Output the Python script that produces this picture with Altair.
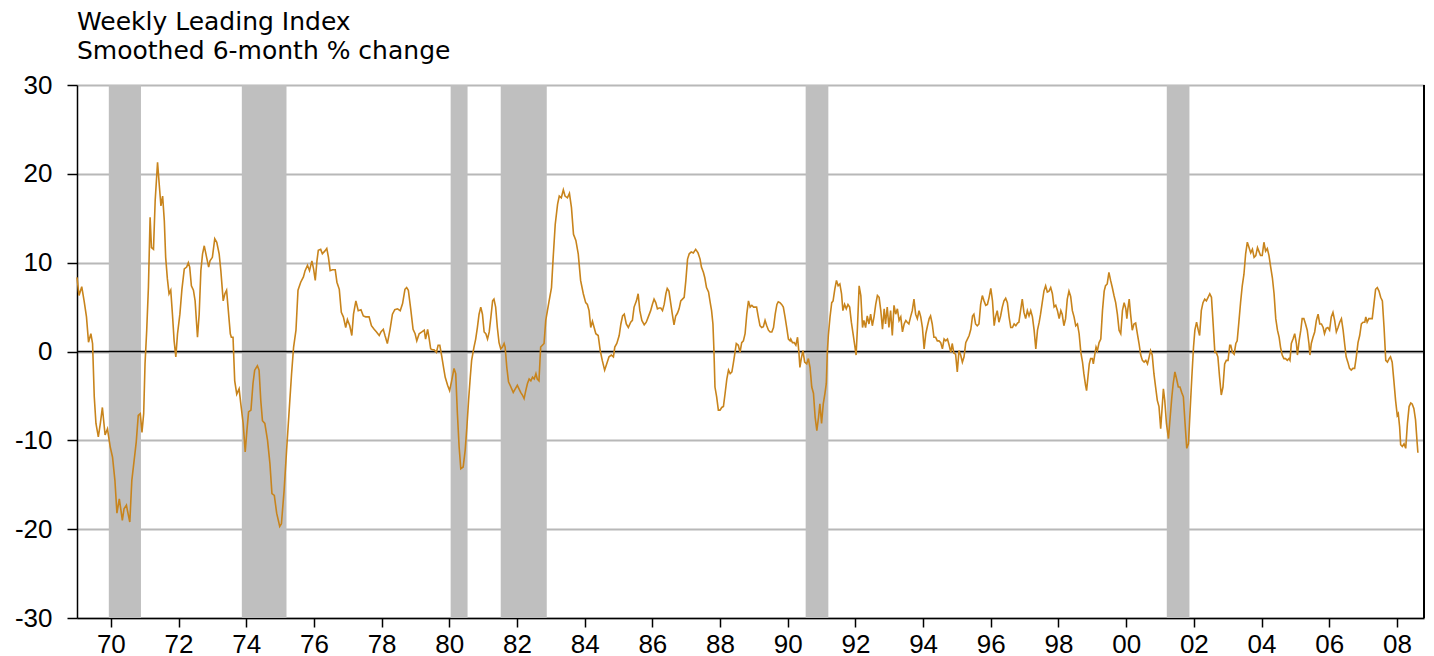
import altair as alt
import pandas as pd

FONT = "Liberation Sans"
TITLE_FONT = "DejaVu Sans"

# ---- Weekly Leading Index, smoothed 6-month % change ----
years_69_76 = [1969.00, 1969.06, 1969.14, 1969.21, 1969.28, 1969.34, 1969.41, 1969.46, 1969.51, 1969.56,
               1969.63, 1969.69, 1969.75, 1969.83, 1969.90, 1969.98, 1970.05, 1970.12, 1970.18, 1970.25,
               1970.30, 1970.34, 1970.39, 1970.46, 1970.49, 1970.56, 1970.62, 1970.69, 1970.75, 1970.81,
               1970.87, 1970.92, 1970.97, 1971.01, 1971.06, 1971.11, 1971.16, 1971.20, 1971.26, 1971.31,
               1971.38, 1971.43, 1971.48, 1971.53, 1971.58, 1971.62, 1971.67, 1971.72, 1971.77, 1971.82,
               1971.87, 1971.92, 1971.97, 1972.04, 1972.10, 1972.17, 1972.24, 1972.29, 1972.33, 1972.38,
               1972.44, 1972.49, 1972.56, 1972.61, 1972.66, 1972.71, 1972.76, 1972.83, 1972.89, 1972.93,
               1973.00, 1973.07, 1973.13, 1973.20, 1973.25, 1973.32, 1973.37, 1973.42, 1973.48, 1973.53,
               1973.56, 1973.61, 1973.66, 1973.72, 1973.79, 1973.84, 1973.91, 1973.97, 1974.02, 1974.07,
               1974.14, 1974.20, 1974.25, 1974.33, 1974.38, 1974.43, 1974.48, 1974.55, 1974.63, 1974.70,
               1974.76, 1974.83, 1974.90, 1974.99, 1975.04, 1975.12, 1975.20, 1975.27, 1975.34, 1975.40,
               1975.47, 1975.53, 1975.61, 1975.69, 1975.74, 1975.81, 1975.87, 1975.94, 1975.99, 1976.04,
               1976.09, 1976.13, 1976.20]
values_69_76 = [8.35, 6.3, 7.3, 5.7, 3.9, 1.05, 2.0, 0.9, -5.1, -8.1,
                -9.6, -8.1, -6.3, -9.4, -8.7, -10.7, -11.9, -14.5, -18.2, -16.6,
                -17.9, -19.0, -17.7, -17.3, -17.9, -19.2, -14.5, -12.2, -10.2, -7.2,
                -7.0, -9.1, -7.0, -1.4, 2.4, 7.2, 15.1, 11.7, 11.5, 17.0,
                21.3, 18.8, 16.4, 17.5, 14.7, 10.6, 8.2, 6.5, 6.9, 4.2,
                1.2, -0.6, 2.0, 4.2, 7.0, 9.3, 9.5, 10.0, 9.5, 7.4,
                6.9, 5.7, 1.6, 4.2, 9.1, 11.0, 11.9, 10.6, 9.5, 10.2,
                10.6, 12.7, 12.3, 11.0, 9.1, 5.7, 6.5, 6.9, 4.2, 2.0,
                1.6, 1.6, -3.3, -4.8, -4.2, -5.9, -8.1, -11.3, -8.9, -6.8,
                -6.6, -3.6, -2.1, -1.6, -2.1, -5.5, -7.8, -8.1, -10.0, -12.6,
                -16.0, -16.2, -18.2, -19.7, -19.4, -15.6, -10.7, -6.6, -2.5, 0.5,
                2.4, 6.9, 7.8, 8.4, 9.1, 9.7, 9.1, 10.2, 9.3, 8.0,
                10.2, 11.4, 11.5]

years_76_83 = [1976.25, 1976.32, 1976.38, 1976.43, 1976.48, 1976.55, 1976.63, 1976.68, 1976.75, 1976.81,
               1976.87, 1976.94, 1976.99, 1977.06, 1977.12, 1977.17, 1977.24, 1977.31, 1977.39, 1977.46,
               1977.53, 1977.63, 1977.70, 1977.78, 1977.85, 1977.93, 1977.98, 1978.05, 1978.10, 1978.17,
               1978.25, 1978.32, 1978.39, 1978.47, 1978.55, 1978.62, 1978.69, 1978.74, 1978.79, 1978.86,
               1978.93, 1978.99, 1979.04, 1979.11, 1979.19, 1979.26, 1979.30, 1979.36, 1979.40, 1979.45,
               1979.50, 1979.55, 1979.62, 1979.67, 1979.72, 1979.78, 1979.83, 1979.88, 1979.95, 1980.01,
               1980.07, 1980.14, 1980.19, 1980.24, 1980.29, 1980.34, 1980.41, 1980.47, 1980.52, 1980.57,
               1980.62, 1980.66, 1980.73, 1980.78, 1980.83, 1980.88, 1980.93, 1980.98, 1981.03, 1981.08,
               1981.13, 1981.18, 1981.23, 1981.28, 1981.32, 1981.37, 1981.42, 1981.47, 1981.52, 1981.57,
               1981.62, 1981.65, 1981.70, 1981.75, 1981.82, 1981.89, 1981.95, 1982.01, 1982.06, 1982.11,
               1982.16, 1982.21, 1982.26, 1982.31, 1982.36, 1982.41, 1982.46, 1982.51, 1982.56, 1982.60,
               1982.65, 1982.70, 1982.75, 1982.80, 1982.85, 1982.90, 1982.95, 1983.02, 1983.07, 1983.13,
               1983.20, 1983.25, 1983.31, 1983.37, 1983.42, 1983.49, 1983.55, 1983.61, 1983.67, 1983.74,
               1983.81, 1983.88]
values_76_83 = [11.0, 11.3, 11.6, 10.6, 9.1, 9.2, 9.2, 7.8, 7.0, 4.4,
                3.9, 2.7, 3.6, 2.9, 1.8, 4.2, 5.7, 4.6, 4.7, 4.0,
                3.9, 3.9, 2.9, 2.5, 2.2, 1.8, 2.2, 2.5, 1.8, 0.9,
                2.5, 4.2, 4.7, 4.8, 4.6, 5.4, 7.0, 7.2, 6.9, 4.8,
                2.5, 2.0, 1.2, 2.0, 2.2, 2.4, 1.4, 2.5, 1.6, 0.3,
                0.2, 0.2, -0.1, 0.7, 0.7, -0.6, -1.8, -2.9, -3.8, -4.4,
                -3.3, -1.9, -2.5, -7.0, -10.7, -13.2, -13.0, -11.1, -8.5, -5.5,
                -2.9, -1.0, 0.5, 1.4, 2.7, 4.2, 5.0, 4.2, 2.2, 2.0,
                1.4, 2.2, 3.9, 5.7, 5.9, 5.0, 2.7, 1.0, 0.3, 0.5,
                0.9, 0.5, -1.8, -3.4, -4.0, -4.6, -4.2, -3.8, -4.2, -4.6,
                -4.9, -5.3, -4.4, -3.6, -3.1, -3.3, -2.9, -3.1, -2.5, -3.1,
                -3.3, 0.5, 0.7, 0.9, 3.5, 4.6, 5.7, 7.2, 10.6, 14.3,
                16.6, 17.5, 17.3, 18.2, 17.5, 17.3, 17.8, 16.2, 13.2, 12.5,
                11.0, 8.0]

years_84_90 = [1983.96, 1984.03, 1984.08, 1984.13, 1984.18, 1984.23, 1984.28, 1984.33, 1984.40, 1984.46,
               1984.52, 1984.59, 1984.65, 1984.72, 1984.79, 1984.85, 1984.89, 1984.95, 1985.02, 1985.07,
               1985.12, 1985.17, 1985.23, 1985.29, 1985.36, 1985.41, 1985.46, 1985.53, 1985.58, 1985.63,
               1985.69, 1985.76, 1985.82, 1985.88, 1985.95, 1986.00, 1986.05, 1986.10, 1986.15, 1986.20,
               1986.25, 1986.30, 1986.35, 1986.40, 1986.44, 1986.49, 1986.54, 1986.59, 1986.64, 1986.69,
               1986.74, 1986.79, 1986.84, 1986.89, 1986.94, 1986.99, 1987.04, 1987.09, 1987.15, 1987.21,
               1987.28, 1987.35, 1987.41, 1987.45, 1987.51, 1987.55, 1987.60, 1987.66, 1987.71, 1987.75,
               1987.79, 1987.82, 1987.85, 1987.90, 1987.95, 1988.00, 1988.05, 1988.10, 1988.15, 1988.20,
               1988.25, 1988.30, 1988.35, 1988.39, 1988.43, 1988.48, 1988.54, 1988.59, 1988.64, 1988.69,
               1988.74, 1988.79, 1988.84, 1988.89, 1988.94, 1988.99, 1989.04, 1989.08, 1989.13, 1989.18,
               1989.23, 1989.28, 1989.33, 1989.38, 1989.43, 1989.48, 1989.53, 1989.58, 1989.63, 1989.68,
               1989.72, 1989.77, 1989.82, 1989.87, 1989.92, 1989.97, 1990.02, 1990.07]
values_84_90 = [6.5, 5.5, 5.3, 4.6, 2.7, 3.4, 2.7, 2.0, 1.8, 0.1,
                -1.0, -2.1, -1.4, -0.6, -0.4, -0.6, 0.5, 0.9, 1.8, 3.1,
                4.0, 4.2, 3.1, 2.7, 3.3, 3.5, 5.0, 5.7, 6.5, 4.6,
                3.5, 3.0, 3.3, 3.9, 4.6, 5.3, 5.9, 5.5, 4.8, 4.9,
                4.9, 4.6, 5.3, 6.5, 7.1, 6.8, 5.5, 4.2, 3.0, 4.0,
                4.3, 4.8, 5.7, 5.9, 6.1, 8.0, 10.4, 11.0, 11.2, 11.1,
                11.5, 11.1, 10.4, 9.5, 8.9, 8.3, 7.2, 6.7, 5.5, 4.6,
                3.1, 0.1, -4.0, -5.1, -6.6, -6.6, -6.3, -6.2, -4.7, -3.1,
                -2.1, -2.5, -2.3, -1.4, -0.4, 0.9, 0.7, -0.1, 1.0, 1.2,
                2.0, 4.2, 5.7, 5.0, 5.2, 5.0, 5.0, 5.0, 3.9, 2.9,
                2.7, 2.8, 3.5, 2.9, 2.4, 2.2, 2.2, 2.7, 4.2, 5.3,
                5.6, 5.5, 5.3, 5.0, 3.9, 2.7, 1.4, 1.2]

years_90_96 = [1990.09, 1990.14, 1990.19, 1990.24, 1990.29, 1990.33, 1990.36, 1990.40, 1990.45, 1990.50,
               1990.56, 1990.61, 1990.66, 1990.71, 1990.76, 1990.81, 1990.86, 1990.91, 1990.95, 1991.00,
               1991.05, 1991.10, 1991.14, 1991.17, 1991.20, 1991.25, 1991.30, 1991.34, 1991.39, 1991.44,
               1991.49, 1991.54, 1991.59, 1991.63, 1991.68, 1991.73, 1991.78, 1991.83, 1991.88, 1991.93,
               1991.98, 1992.02, 1992.06, 1992.11, 1992.16, 1992.21, 1992.25, 1992.30, 1992.35, 1992.40,
               1992.45, 1992.50, 1992.55, 1992.60, 1992.65, 1992.70, 1992.75, 1992.80, 1992.85, 1992.89,
               1992.94, 1992.99, 1993.04, 1993.09, 1993.14, 1993.19, 1993.24, 1993.29, 1993.34, 1993.39,
               1993.44, 1993.49, 1993.53, 1993.58, 1993.63, 1993.68, 1993.73, 1993.78, 1993.83, 1993.88,
               1993.93, 1993.98, 1994.03, 1994.08, 1994.13, 1994.18, 1994.22, 1994.27, 1994.32, 1994.37,
               1994.42, 1994.47, 1994.52, 1994.57, 1994.62, 1994.67, 1994.72, 1994.77, 1994.82, 1994.86,
               1994.91, 1994.96, 1995.01, 1995.06, 1995.11, 1995.16, 1995.21, 1995.26, 1995.31, 1995.36,
               1995.41, 1995.46, 1995.50, 1995.55, 1995.60, 1995.65, 1995.70, 1995.75, 1995.80, 1995.85,
               1995.90, 1995.95, 1996.00, 1996.05, 1996.10, 1996.14, 1996.19, 1996.24, 1996.29, 1996.34,
               1996.39, 1996.44, 1996.49, 1996.54, 1996.59]
values_90_96 = [1.4, 1.0, 1.0, 0.7, 1.6, -0.1, -1.8, -0.8, 0.1, -1.2,
                -1.4, -0.8, -1.8, -4.0, -4.7, -7.4, -8.9, -7.4, -5.9, -8.1,
                -5.9, -4.7, -3.6, -0.1, 1.8, 3.9, 5.5, 5.7, 7.0, 8.0,
                7.4, 7.6, 6.5, 4.6, 5.3, 4.8, 5.3, 5.0, 3.3, 2.0,
                0.7, -0.4, 2.7, 7.4, 6.3, 2.7, 3.5, 2.7, 4.0, 3.1,
                4.2, 2.9, 3.9, 5.3, 6.3, 6.1, 4.6, 2.5, 4.8, 3.1,
                5.0, 2.7, 4.6, 1.8, 5.2, 4.2, 4.8, 3.5, 3.9, 2.2,
                3.1, 3.5, 3.3, 3.1, 3.9, 4.6, 5.9, 4.2, 3.7, 4.6,
                3.9, 2.7, 0.3, 2.0, 2.9, 3.7, 4.0, 3.1, 1.6, 1.6,
                1.2, 1.2, 1.0, 0.3, 1.4, 1.2, 1.4, 0.7, -0.1, 0.9,
                -0.2, -0.3, -2.3, 0.1, -0.4, -1.2, -0.6, 1.0, 1.4, 1.8,
                2.5, 4.0, 4.2, 3.1, 2.9, 3.1, 5.3, 6.3, 5.7, 5.2,
                5.3, 6.1, 7.1, 5.7, 2.9, 3.9, 4.6, 3.3, 4.0, 5.0,
                5.7, 6.0, 5.5, 3.9, 2.7]

years_96_03 = [1996.64, 1996.69, 1996.74, 1996.79, 1996.83, 1996.88, 1996.93, 1996.98, 1997.03, 1997.08,
               1997.13, 1997.18, 1997.23, 1997.28, 1997.33, 1997.38, 1997.43, 1997.47, 1997.52, 1997.57,
               1997.62, 1997.67, 1997.72, 1997.77, 1997.82, 1997.87, 1997.92, 1997.97, 1998.02, 1998.07,
               1998.11, 1998.16, 1998.21, 1998.26, 1998.31, 1998.36, 1998.41, 1998.46, 1998.51, 1998.56,
               1998.61, 1998.66, 1998.71, 1998.75, 1998.80, 1998.83, 1998.87, 1998.91, 1998.95, 1999.00,
               1999.03, 1999.07, 1999.11, 1999.15, 1999.20, 1999.25, 1999.30, 1999.35, 1999.39, 1999.44,
               1999.49, 1999.54, 1999.59, 1999.64, 1999.69, 1999.74, 1999.79, 1999.84, 1999.89, 1999.94,
               1999.99, 2000.02, 2000.05, 2000.09, 2000.13, 2000.18, 2000.23, 2000.28, 2000.33, 2000.38,
               2000.43, 2000.48, 2000.53, 2000.58, 2000.63, 2000.68, 2000.72, 2000.77, 2000.82, 2000.87,
               2000.92, 2000.97, 2001.02, 2001.07, 2001.10, 2001.14, 2001.19, 2001.25, 2001.30, 2001.35,
               2001.39, 2001.44, 2001.49, 2001.54, 2001.59, 2001.64, 2001.69, 2001.74, 2001.79, 2001.84,
               2001.89, 2001.94, 2001.99, 2002.03, 2002.08, 2002.13, 2002.17, 2002.22, 2002.27, 2002.32,
               2002.37, 2002.42, 2002.47, 2002.52, 2002.57, 2002.62, 2002.66, 2002.71, 2002.76, 2002.81,
               2002.86, 2002.91, 2002.96, 2003.01, 2003.06]
values_96_03 = [2.7, 3.1, 2.9, 3.2, 3.3, 4.6, 5.9, 4.4, 3.7, 4.6,
                4.0, 4.6, 3.9, 2.4, 0.3, 2.4, 3.3, 4.2, 5.5, 6.8,
                7.4, 6.7, 6.8, 7.2, 6.5, 5.0, 5.2, 4.6, 3.7, 4.6,
                4.2, 2.9, 3.7, 5.9, 6.8, 6.2, 4.6, 3.9, 2.9, 3.1,
                2.0, -0.1, -1.2, -2.5, -3.8, -4.4, -2.9, -1.4, -0.8, -0.8,
                -1.4, -0.4, 0.5, 0.1, 1.0, 1.4, 4.6, 6.8, 7.4, 7.6,
                8.9, 8.0, 7.2, 6.3, 5.5, 4.2, 2.4, 2.0, 4.6, 5.5,
                4.8, 3.7, 4.8, 5.9, 4.2, 2.4, 3.1, 3.2, 2.0, 0.9,
                -0.4, -1.0, -1.2, -1.0, -1.4, -0.6, 0.1, -0.4, -2.5, -4.0,
                -5.5, -6.2, -8.7, -5.9, -4.2, -5.5, -8.1, -9.8, -7.4, -5.1,
                -3.6, -2.3, -3.1, -4.0, -4.0, -4.6, -5.1, -8.1, -10.9, -10.4,
                -6.6, -2.9, 0.5, 2.4, 3.3, 2.4, 1.8, 4.6, 5.5, 5.9,
                5.7, 6.1, 6.5, 6.1, 3.1, -0.1, -0.1, -0.6, -2.9, -4.9,
                -4.0, -1.4, -1.0, -1.0, 0.7]

years_03_08 = [2003.09, 2003.14, 2003.19, 2003.24, 2003.28, 2003.33, 2003.38, 2003.43, 2003.48, 2003.53,
               2003.58, 2003.63, 2003.68, 2003.73, 2003.78, 2003.83, 2003.88, 2003.92, 2003.97, 2004.02,
               2004.07, 2004.12, 2004.17, 2004.22, 2004.27, 2004.32, 2004.37, 2004.42, 2004.47, 2004.52,
               2004.56, 2004.61, 2004.66, 2004.71, 2004.76, 2004.81, 2004.84, 2004.88, 2004.93, 2004.98,
               2005.03, 2005.06, 2005.11, 2005.16, 2005.20, 2005.25, 2005.30, 2005.35, 2005.40, 2005.43,
               2005.47, 2005.52, 2005.57, 2005.62, 2005.67, 2005.72, 2005.77, 2005.82, 2005.86, 2005.91,
               2005.96, 2006.01, 2006.06, 2006.11, 2006.16, 2006.21, 2006.26, 2006.31, 2006.36, 2006.41,
               2006.46, 2006.50, 2006.55, 2006.60, 2006.65, 2006.70, 2006.75, 2006.80, 2006.85, 2006.90,
               2006.95, 2007.00, 2007.05, 2007.08, 2007.12, 2007.17, 2007.22, 2007.27, 2007.32, 2007.37,
               2007.42, 2007.47, 2007.52, 2007.57, 2007.62, 2007.67, 2007.72, 2007.77, 2007.81, 2007.86,
               2007.91, 2007.96, 2008.01, 2008.04, 2008.08, 2008.11, 2008.16, 2008.21, 2008.26, 2008.31,
               2008.36, 2008.41, 2008.45, 2008.50, 2008.55, 2008.60, 2008.62]
values_03_08 = [0.7, -0.1, -0.3, 0.9, 1.2, 3.3, 5.5, 7.4, 8.7, 11.0,
                12.3, 11.7, 11.1, 11.5, 10.6, 10.8, 11.7, 11.3, 10.8, 10.8,
                12.3, 11.3, 11.6, 10.8, 9.5, 8.3, 6.5, 3.7, 2.4, 1.6,
                0.5, -0.4, -0.8, -0.8, -1.0, -0.8, -1.0, 0.9, 1.4, 2.0,
                0.9, -0.4, 1.2, 2.4, 3.7, 3.7, 3.1, 2.4, 0.9, -0.4,
                0.9, 1.6, 2.2, 3.5, 4.2, 3.1, 3.1, 2.7, 2.0, 2.6,
                2.7, 2.4, 3.9, 4.4, 3.5, 2.2, 2.7, 3.3, 3.7, 2.4,
                0.7, -0.6, -1.2, -1.9, -2.1, -1.9, -1.9, -0.6, 1.0, 1.8,
                3.1, 3.3, 3.3, 3.9, 3.3, 3.7, 3.7, 3.7, 5.3, 7.0,
                7.2, 6.8, 6.1, 5.7, 2.7, -1.0, -1.2, -0.8, -0.6, -1.2,
                -3.3, -5.5, -7.2, -7.0, -8.5, -10.5, -10.7, -10.4, -10.9, -8.1,
                -6.2, -5.8, -5.9, -6.4, -7.7, -10.4, -11.4]

# ---- recessions (shaded bands) ----
rec_start = [1969.94, 1973.87, 1980.04, 1981.52, 1990.53, 2001.20]
rec_end = [1970.89, 1975.19, 1980.54, 1982.88, 1991.20, 2001.87]

x_domain = [1969, 2008.8]
y_domain = [-30, 30]
x_ticks = list(range(1970, 2009, 2))
y_ticks = [-30, -20, -10, 0, 10, 20, 30]
title_lines = ["Weekly Leading Index", "Smoothed 6-month % change"]

years = years_69_76 + years_76_83 + years_84_90 + years_90_96 + years_96_03 + years_03_08
values = values_69_76 + values_76_83 + values_84_90 + values_90_96 + values_96_03 + values_03_08

df = pd.DataFrame({"year": years, "value": values})
rec = pd.DataFrame({"start": rec_start, "end": rec_end})
zero = pd.DataFrame({"v": [0]})
right_edge = pd.DataFrame({"x": [x_domain[1]]})

W, H = 1347, 533

xscale = alt.Scale(domain=x_domain, nice=False, zero=False)
yscale = alt.Scale(domain=y_domain, nice=False, zero=False)

xaxis = alt.Axis(
    values=x_ticks, labelExpr="slice(toString(datum.value), 2)", title=None, grid=False,
    domainColor="black", domainWidth=1.5, tickColor="black", tickWidth=1.5, tickSize=9,
    labelFontSize=26, labelFont=FONT, labelColor="black", labelPadding=4,
    labelFlush=False, labelOverlap=False,
)
yaxis = alt.Axis(
    values=y_ticks, labelExpr="toString(datum.value)", title=None, grid=True,
    gridColor="#B8B8B8", gridWidth=2,
    domainColor="black", domainWidth=1.5, tickColor="black", tickWidth=1.5, tickSize=10,
    labelFontSize=26, labelFont=FONT, labelColor="black", labelPadding=15,
)

bands = alt.Chart(rec).mark_rect(color="#BFBFBF").encode(
    x=alt.X("start:Q", scale=xscale, axis=xaxis),
    x2="end:Q",
    y=alt.value(0),
    y2=alt.value(H),
)

zero_line = alt.Chart(zero).mark_rule(color="black", strokeWidth=1.6).encode(
    y=alt.Y("v:Q", scale=yscale, axis=yaxis)
)

line = alt.Chart(df).mark_line(color="#C8841C", strokeWidth=1.6).encode(
    x=alt.X("year:Q", scale=xscale, axis=xaxis),
    y=alt.Y("value:Q", scale=yscale, axis=yaxis),
)

edge = alt.Chart(right_edge).mark_rule(color="black", strokeWidth=2).encode(
    x=alt.X("x:Q", scale=xscale, axis=xaxis)
)

chart = alt.layer(bands, zero_line, line, edge).properties(
    width=W,
    height=H,
    autosize=alt.AutoSizeParams(type="none"),
    padding={"left": 69, "top": 77, "right": 2, "bottom": 40},
    title=alt.TitleParams(
        text=title_lines, anchor="start", frame="group", fontSize=25, fontWeight="normal",
        font=TITLE_FONT, color="black", lineHeight=29, offset=8,
    ),
).configure_view(stroke=None)

chart.save("out.html", embed_options={"renderer": "svg", "actions": False})
